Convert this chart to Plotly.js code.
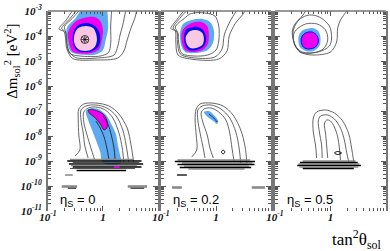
<!DOCTYPE html>
<html><head><meta charset="utf-8">
<script src="https://cdn.plot.ly/plotly-3.0.1.min.js"></script>
<style>body{margin:0;background:#fff}#chart{width:390px;height:251px}</style>
</head><body><div id="chart"></div>
<script>
// ---- data (log10 tan^2 theta , log10 dm^2) ----
const panelEta = ['0', '0.2', '0.5'];
const xTickVals = [0.1, 1, 10];
const xTickText = ['10<sup>-1</sup>', '1', '10'];
const yTickVals = [1e-11,1e-10,1e-9,1e-8,1e-7,1e-6,1e-5,1e-4,1e-3];
const yTickText = ['10<sup>-11</sup>','10<sup>-10</sup>','10<sup>-9</sup>','10<sup>-8</sup>','10<sup>-7</sup>','10<sup>-6</sup>','10<sup>-5</sup>','10<sup>-4</sup>','10<sup>-3</sup>'];
const bestFit = [-0.33, -4.14];

// panel 1 (eta=0) LMA region
const p1LightBlueX = [-0.36,0.05,0.09,0.09,0.05,0.00,-0.13,-0.42,-0.58,-0.64,-0.67,-0.64,-0.51];
const p1LightBlueY = [-2.9,-2.9,-3.36,-3.76,-4.16,-4.56,-4.74,-4.74,-4.64,-4.32,-3.88,-3.60,-3.32];
const p1MagentaX = [-0.60,-0.49,-0.35,-0.16,-0.05,0.00,-0.02,-0.07,-0.20,-0.42,-0.56,-0.62,-0.64];
const p1MagentaY = [-3.68,-3.40,-3.28,-3.24,-3.40,-3.76,-4.16,-4.52,-4.68,-4.70,-4.60,-4.24,-3.92];
const p1PinkX = [-0.45,-0.31,-0.18,-0.13,-0.11,-0.15,-0.25,-0.40,-0.49,-0.53,-0.51];
const p1PinkY = [-3.68,-3.60,-3.68,-3.88,-4.16,-4.44,-4.58,-4.58,-4.44,-4.16,-3.88];
const p1BlueX = [-0.45,-0.29,-0.15,-0.07,-0.05,-0.09,-0.22,-0.42,-0.51,-0.55,-0.53];
const p1BlueY = [-3.56,-3.48,-3.60,-3.84,-4.16,-4.44,-4.62,-4.62,-4.48,-4.16,-3.80];
const p1GreyAX = [-0.40,-0.56,-0.70,-0.68,-0.66,-0.60,-0.42,-0.05,0.10,0.14,0.14,0.16];
const p1GreyAY = [-2.9,-3.30,-3.62,-3.84,-4.30,-4.70,-4.80,-4.80,-4.66,-4.30,-3.60,-2.9];
const p1GreyBX = [-0.45,-0.60,-0.75,-0.68,-0.66,-0.62,-0.50,-0.10,0.20,0.27,0.31,0.36,0.42];
const p1GreyBY = [-2.9,-3.30,-3.70,-3.84,-4.20,-4.60,-4.86,-4.88,-4.76,-4.40,-3.96,-3.56,-2.9];
const p1GreyCX = [-0.53,-0.67,-0.80,-0.71,-0.68,-0.66,-0.55,-0.15,0.27,0.38,0.44,0.51,0.58,0.62];
const p1GreyCY = [-2.9,-3.36,-3.72,-3.82,-4.10,-4.50,-4.90,-4.96,-4.88,-4.60,-4.16,-3.68,-3.28,-2.9];
// panel 1 LOW region
const p1LowLightBlueX = [-0.31,-0.20,-0.05,0.07,0.16,0.24,0.27,0.31,0.33,0.00,-0.05,-0.13,-0.20,-0.27];
const p1LowLightBlueY = [-7.00,-6.88,-6.96,-7.20,-7.56,-7.96,-8.36,-8.76,-9.08,-9.08,-8.64,-8.16,-7.76,-7.36];
const p1LowMagentaX = [-0.27,-0.15,0.00,0.07,0.07,0.02,-0.05,-0.16,-0.25];
const p1LowMagentaY = [-6.96,-6.96,-7.12,-7.36,-7.68,-7.76,-7.52,-7.24,-7.08];
const p1LowInnerAX = [-0.13,-0.05,0.02,0.07,0.11];
const p1LowInnerAY = [-7.40,-7.68,-8.04,-8.48,-8.96];
const p1LowInnerBX = [0.00,0.09,0.15,0.20,0.22];
const p1LowInnerBY = [-7.20,-7.52,-7.96,-8.48,-8.96];
const p1LowGreyAX = [-0.15,-0.22,-0.29,-0.35,-0.35,-0.27,-0.13,0.04,0.18,0.29,0.35,0.38];
const p1LowGreyAY = [-8.96,-8.48,-7.96,-7.44,-7.04,-6.88,-6.84,-6.96,-7.28,-7.88,-8.48,-9.08];
const p1LowGreyBX = [-0.27,-0.33,-0.36,-0.40,-0.40,-0.31,-0.13,0.07,0.24,0.36,0.42,0.47];
const p1LowGreyBY = [-8.88,-8.40,-7.88,-7.36,-6.96,-6.80,-6.76,-6.88,-7.20,-7.76,-8.36,-9.08];
const p1LowGreyCX = [-0.51,-0.42,-0.44,-0.45,-0.44,-0.35,-0.13,0.11,0.29,0.44,0.51,0.56];
const p1LowGreyCY = [-8.80,-8.56,-7.96,-7.36,-6.92,-6.72,-6.68,-6.80,-7.12,-7.68,-8.36,-9.08];
const p1StreakY  = [-8.94,-9.00,-9.06,-9.12,-9.18,-9.24,-9.30,-9.38];
const p1StreakX0 = [-0.60,-0.65,-0.55,-0.62,-0.58,-0.55,-0.60,-0.48];
const p1StreakX1 = [0.55,0.70,0.66,0.73,0.62,0.70,0.58,0.42];
const p1SpotX = [0.20, 0.30];
const p1SpotY = [-9.24, -9.24];
const p1BarY  = [-9.56,-10.02,-10.02,-10.09,-10.09];
const p1BarX0 = [-0.69,-0.75,0.45,-0.64,0.50];
const p1BarX1 = [-0.55,-0.47,0.80,-0.49,0.75];

// panel 2 (eta=0.2)
const p2LightBlueX = [-0.60,-0.44,-0.24,-0.11,-0.04,-0.05,-0.15,-0.38,-0.56,-0.64,-0.65];
const p2LightBlueY = [-3.52,-3.36,-3.32,-3.44,-3.76,-4.24,-4.56,-4.68,-4.64,-4.32,-3.84];
const p2MagentaX = [-0.56,-0.44,-0.27,-0.16,-0.13,-0.15,-0.24,-0.44,-0.56,-0.62,-0.62];
const p2MagentaY = [-3.64,-3.48,-3.44,-3.60,-3.92,-4.32,-4.56,-4.64,-4.56,-4.24,-3.84];
const p2PinkX = [-0.47,-0.35,-0.25,-0.22,-0.25,-0.36,-0.47,-0.53,-0.55];
const p2PinkY = [-3.80,-3.76,-3.88,-4.12,-4.36,-4.48,-4.48,-4.32,-4.04];
const p2BlueX = [-0.49,-0.33,-0.22,-0.18,-0.22,-0.35,-0.49,-0.56,-0.58,-0.55];
const p2BlueY = [-3.68,-3.64,-3.80,-4.12,-4.40,-4.56,-4.56,-4.36,-4.00,-3.76];
const p2GreyAX = [-0.58,-0.45,-0.20,-0.02,0.05,0.05,0.00,-0.15,-0.40,-0.62,-0.68,-0.69,-0.74];
const p2GreyAY = [-3.30,-3.10,-3.08,-3.20,-3.60,-4.20,-4.56,-4.76,-4.80,-4.70,-4.24,-3.88,-3.64];
const p2GreyBX = [-0.50,-0.66,-0.78,-0.71,-0.70,-0.65,-0.38,-0.02,0.11,0.15,0.25,0.40];
const p2GreyBY = [-2.9,-3.30,-3.68,-3.84,-4.24,-4.72,-4.88,-4.84,-4.52,-3.96,-3.44,-2.9];
const p2GreyCX = [-0.55,-0.71,-0.82,-0.74,-0.73,-0.69,-0.40,0.05,0.20,0.24,0.35,0.50,0.55];
const p2GreyCY = [-2.9,-3.34,-3.70,-3.80,-4.24,-4.76,-4.94,-4.92,-4.60,-4.00,-3.50,-3.10,-2.9];
const p2LowLightBlueX = [-0.22,-0.13,-0.04,0.04,0.02,-0.05,-0.15];
const p2LowLightBlueY = [-7.04,-7.00,-7.16,-7.40,-7.52,-7.40,-7.24];
const p2LowBlueX = [-0.13,-0.04,0.02];
const p2LowBlueY = [-7.12,-7.28,-7.44];
const p2LowGreyAX = [-0.05,-0.11,-0.16,-0.24,-0.27,-0.22,-0.09,0.05,0.18,0.25,0.29,0.33];
const p2LowGreyAY = [-8.88,-8.48,-7.96,-7.44,-7.08,-6.92,-6.88,-7.04,-7.36,-7.88,-8.48,-9.04];
const p2LowGreyBX = [-0.20,-0.24,-0.29,-0.33,-0.33,-0.25,-0.09,0.09,0.25,0.36,0.42,0.45];
const p2LowGreyBY = [-8.88,-8.40,-7.88,-7.36,-6.96,-6.80,-6.76,-6.92,-7.28,-7.84,-8.48,-9.08];
const p2LowGreyCX = [-0.44,-0.35,-0.36,-0.38,-0.36,-0.29,-0.09,0.13,0.31,0.45,0.53,0.56];
const p2LowGreyCY = [-8.84,-8.56,-7.96,-7.36,-6.92,-6.72,-6.68,-6.80,-7.16,-7.76,-8.44,-9.08];
const p2IslandX = [0.10,0.13,0.16,0.13];
const p2IslandY = [-8.64,-8.56,-8.64,-8.72];
const p2StreakY  = [-8.96,-9.02,-9.08,-9.14,-9.20,-9.26,-9.32];
const p2StreakX0 = [-0.70,-0.75,-0.62,-0.70,-0.58,-0.66,-0.50];
const p2StreakX1 = [0.62,0.71,0.66,0.70,0.60,0.64,0.52];
const p2BarY  = [-9.56,-10.06,-10.06];
const p2BarX0 = [-0.71,-0.80,0.65];
const p2BarX1 = [-0.53,-0.62,0.89];

// panel 3 (eta=0.5)
const p3LightBlueX = [-0.49,-0.33,-0.22,-0.18,-0.20,-0.31,-0.45,-0.55,-0.58,-0.56];
const p3LightBlueY = [-3.76,-3.68,-3.80,-4.08,-4.40,-4.60,-4.60,-4.44,-4.16,-3.92];
const p3MagentaX = [-0.45,-0.33,-0.24,-0.22,-0.27,-0.40,-0.49,-0.53,-0.51];
const p3MagentaY = [-3.88,-3.84,-4.00,-4.24,-4.44,-4.52,-4.44,-4.20,-4.00];
const p3GreyAX = [-0.62,-0.45,-0.24,-0.09,-0.05,-0.13,-0.33,-0.55,-0.65,-0.67];
const p3GreyAY = [-3.76,-3.52,-3.52,-3.76,-4.16,-4.52,-4.68,-4.64,-4.32,-4.00];
const p3GreyBX = [-0.67,-0.55,-0.38,-0.20,-0.02,0.02,-0.02,-0.22,-0.51,-0.64];
const p3GreyBY = [-3.76,-3.32,-3.16,-3.24,-3.60,-4.08,-4.40,-4.64,-4.64,-4.36];
const p3GreyCX = [-0.42,-0.51,-0.64,-0.69,-0.64,-0.55,-0.33,0.00,0.11,0.13,0.18,0.33];
const p3GreyCY = [-2.9,-3.20,-3.52,-3.84,-4.36,-4.64,-4.76,-4.64,-4.24,-3.68,-3.36,-2.9];
const p3LowGreyAX = [-0.05,-0.07,-0.09,-0.11,-0.07,0.00,0.07,0.13,0.16,0.18];
const p3LowGreyAY = [-8.88,-8.36,-7.88,-7.52,-7.36,-7.40,-7.64,-8.04,-8.48,-8.96];
const p3LowGreyBX = [-0.15,-0.16,-0.20,-0.22,-0.18,-0.05,0.07,0.18,0.25,0.29,0.33];
const p3LowGreyBY = [-8.88,-8.36,-7.84,-7.40,-7.20,-7.16,-7.32,-7.68,-8.16,-8.64,-9.04];
const p3LowGreyCX = [-0.25,-0.27,-0.31,-0.31,-0.25,-0.09,0.07,0.22,0.33,0.38,0.42];
const p3LowGreyCY = [-8.88,-8.36,-7.84,-7.28,-7.04,-6.96,-7.08,-7.40,-7.92,-8.48,-9.04];
const p3IslandX = [0.07,0.13,0.20,0.13];
const p3IslandY = [-8.68,-8.62,-8.68,-8.74];
const p3StreakY  = [-9.00,-9.06,-9.12,-9.18,-9.24,-9.30];
const p3StreakX0 = [-0.50,-0.55,-0.58,-0.60,-0.56,-0.50];
const p3StreakX1 = [0.45,0.49,0.52,0.55,0.50,0.42];

// ---- styles ----
const C = {lb:'#5eaaf0', mg:'#f000f0', pk:'#fbc8e4', bl:'#0010e8', grey:'#555', lgrey:'#8a8a8a', black:'#000'};
const SUF = ['', '2', '3'];
const traces = [];
const P = v => Math.pow(10, v);
function poly(xs, ys, k, o) {
  const X = xs.map(P), Y = ys.map(P);
  if (o.closed) { X.push(X[0]); Y.push(Y[0]); }
  traces.push({type:'scatter', mode:'lines', x:X, y:Y, xaxis:'x'+SUF[k], yaxis:'y'+SUF[k],
    fill: o.fill ? 'toself' : 'none', fillcolor: o.fill,
    line:{color: o.color || 'rgba(0,0,0,0)', width: o.width || 0, shape: o.straight ? 'linear' : 'spline', smoothing: 0.9},
    hoverinfo:'skip', showlegend:false});
}
function seg(ys, x0s, x1s, k, colors, widths) {
  ys.forEach((y, i) => poly([x0s[i], x1s[i]], [y, y], k, {color: colors[i % colors.length], width: widths[i % widths.length], straight:true}));
}
const G = {color:C.grey, width:0.9};
const Gc = {color:C.grey, width:0.9, closed:true};
const SC = [C.lgrey, C.black, C.grey, C.black];
const SW = [1.3, 1.4, 1.1, 1.6];

// panel 1
poly(p1LightBlueX, p1LightBlueY, 0, {fill:C.lb, closed:true});
poly(p1MagentaX, p1MagentaY, 0, {fill:C.mg, closed:true});
poly(p1BlueX, p1BlueY, 0, {fill:C.bl, closed:true});
poly(p1PinkX, p1PinkY, 0, {fill:C.pk, closed:true});
[[p1GreyAX,p1GreyAY],[p1GreyBX,p1GreyBY],[p1GreyCX,p1GreyCY]].forEach(a => poly(a[0], a[1], 0, G));
poly(p1LowLightBlueX, p1LowLightBlueY, 0, {fill:C.lb, closed:true});
poly(p1LowMagentaX, p1LowMagentaY, 0, {fill:C.mg, color:'#222', width:0.8, closed:true});
poly(p1LowInnerAX, p1LowInnerAY, 0, {color:'#223', width:0.9});
poly(p1LowInnerBX, p1LowInnerBY, 0, {color:'#223', width:0.9});
[[p1LowGreyAX,p1LowGreyAY],[p1LowGreyBX,p1LowGreyBY],[p1LowGreyCX,p1LowGreyCY]].forEach(a => poly(a[0], a[1], 0, G));
seg(p1StreakY, p1StreakX0, p1StreakX1, 0, SC, SW);
poly(p1SpotX, p1SpotY, 0, {color:C.mg, width:1.6, straight:true});
seg(p1BarY, p1BarX0, p1BarX1, 0, ['#666',C.lgrey,C.lgrey,C.black,C.black], [1.2,2.6,2.6,0.9,0.9]);
traces.push({type:'scatter', mode:'markers', x:[P(bestFit[0]),P(bestFit[0])], y:[P(bestFit[1]),P(bestFit[1])],
  marker:{symbol:['circle-open','asterisk-open'], size:[8,6], color:'#000', line:{width:1,color:'#000'}}, hoverinfo:'skip', showlegend:false});

// panel 2
poly(p2LightBlueX, p2LightBlueY, 1, {fill:C.lb, closed:true});
poly(p2MagentaX, p2MagentaY, 1, {fill:C.mg, closed:true});
poly(p2BlueX, p2BlueY, 1, {fill:C.bl, closed:true});
poly(p2PinkX, p2PinkY, 1, {fill:C.pk, closed:true});
poly(p2GreyAX, p2GreyAY, 1, Gc);
poly(p2GreyBX, p2GreyBY, 1, G);
poly(p2GreyCX, p2GreyCY, 1, G);
poly(p2LowLightBlueX, p2LowLightBlueY, 1, {fill:C.lb, closed:true});
poly(p2LowBlueX, p2LowBlueY, 1, {color:'#1a2a80', width:1});
[[p2LowGreyAX,p2LowGreyAY],[p2LowGreyBX,p2LowGreyBY],[p2LowGreyCX,p2LowGreyCY]].forEach(a => poly(a[0], a[1], 1, G));
poly(p2IslandX, p2IslandY, 1, {color:C.black, width:1, closed:true});
seg(p2StreakY, p2StreakX0, p2StreakX1, 1, SC, SW);
seg(p2BarY, p2BarX0, p2BarX1, 1, [C.black,C.lgrey,C.lgrey], [1.3,2.6,2.6]);

// panel 3
poly(p3LightBlueX, p3LightBlueY, 2, {fill:C.lb, closed:true});
poly(p3MagentaX, p3MagentaY, 2, {fill:C.mg, color:C.bl, width:1, closed:true});
poly(p3GreyAX, p3GreyAY, 2, Gc);
poly(p3GreyBX, p3GreyBY, 2, Gc);
poly(p3GreyCX, p3GreyCY, 2, G);
[[p3LowGreyAX,p3LowGreyAY],[p3LowGreyBX,p3LowGreyBY],[p3LowGreyCX,p3LowGreyCY]].forEach(a => poly(a[0], a[1], 2, G));
poly(p3IslandX, p3IslandY, 2, {color:C.black, width:1, closed:true});
seg(p3StreakY, p3StreakX0, p3StreakX1, 2, SC, SW);

// ---- layout ----
const dom = [[0, 0.3254], [0.3343, 0.6598], [0.6716, 1]];
const tickFont = {family:'Liberation Serif', size:11, weight:'bold', style:'italic', color:'#111'};
const minorX = [], minorY = [];
for (let e = -1; e < 1; e++) for (let m = 2; m < 10; m++) minorX.push(m * Math.pow(10, e));
for (let e = -11; e < -3; e++) for (let m = 2; m < 10; m++) minorY.push(m * Math.pow(10, e));
const layout = {width:390, height:251, margin:{l:48, r:4, t:11, b:40}, paper_bgcolor:'#fff', plot_bgcolor:'#fff',
  showlegend:false, shapes:[], annotations:[]};
for (let k = 0; k < 3; k++) {
  const s = SUF[k];
  const tv = k === 2 ? xTickVals : xTickVals.slice(0, 2);
  layout['xaxis'+s] = {type:'log', range:[-1, 1], domain:dom[k], anchor:'y'+s, showgrid:false, zeroline:false,
    showline:false, ticks:'inside', ticklen:5, tickwidth:1, tickcolor:'#555', mirror:'ticks',
    tickmode:'array', tickvals:tv, ticktext:xTickText.slice(0, tv.length), tickfont:tickFont, ticklabelstandoff:-2,
    minor:{tickmode:'array', tickvals:minorX, ticks:'inside', ticklen:3, tickwidth:1, tickcolor:'#555', showgrid:false}};
  layout['yaxis'+s] = {type:'log', range:[-11, -3], domain:[0, 1], anchor:'x'+s, showgrid:false, zeroline:false,
    showline:true, linewidth:2, linecolor:'#777', ticks:'inside', ticklen:5, tickwidth:1, tickcolor:'#555', mirror:'ticks',
    tickmode:'array', tickvals:yTickVals, ticktext:yTickText, tickfont:tickFont, showticklabels:k === 0, ticklabelstandoff:2,
    minor:{tickmode:'array', tickvals:minorY, ticks:'inside', ticklen:3, tickwidth:1, tickcolor:'#555', showgrid:false}};
  layout.shapes.push({type:'line', xref:'paper', yref:'paper', x0:dom[k][0], x1:dom[k][1], y0:1, y1:1, line:{color:'#777', width:1.5}});
  layout.annotations.push({xref:'x'+s+' domain', yref:'y'+s+' domain', x:0.09, y:0.055, xanchor:'left', yanchor:'middle',
    text:'η<sub>S</sub> = '+panelEta[k], showarrow:false, font:{family:'Liberation Sans', size:13, color:'#000'}});
}
layout.annotations.push({xref:'paper', yref:'paper', x:-0.107, y:0.75, xanchor:'center', yanchor:'middle', textangle:-90,
  text:'Δm<sub>sol</sub><sup>2</sup> [eV<sup>2</sup>]', showarrow:false, font:{family:'Liberation Serif', size:15, color:'#000'}});
layout.annotations.push({xref:'paper', yref:'paper', x:0.99, y:-0.14, xanchor:'right', yanchor:'middle',
  text:'tan<sup>2</sup>θ<sub>sol</sub>', showarrow:false, font:{family:'Liberation Serif', size:17, color:'#000'}});

Plotly.newPlot('chart', traces, layout, {staticPlot:true, displayModeBar:false});
</script></body></html>
